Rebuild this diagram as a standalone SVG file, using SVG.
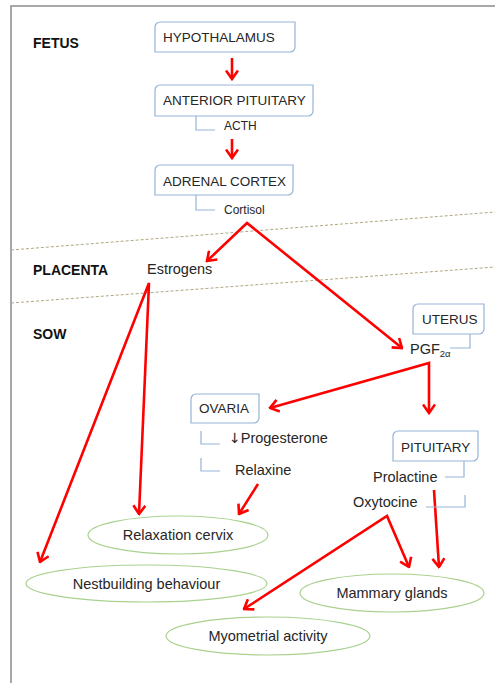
<svg xmlns="http://www.w3.org/2000/svg" width="495" height="683" viewBox="0 0 495 683">
<style>
.box{fill:#fff;stroke:#95b3d7;stroke-width:1.2}
.ell{fill:#fff;stroke:#a9d18e;stroke-width:1.2}
.brk{fill:none;stroke:#95b3d7;stroke-width:1.2}
.arr{fill:none;stroke:#ff0000;stroke-width:2.6;stroke-linejoin:miter;marker-end:url(#ah)}
.arr2{fill:none;stroke:#ff0000;stroke-width:2.6;stroke-linejoin:miter;marker-start:url(#ah);marker-end:url(#ah)}
.dash{fill:none;stroke:#b0a882;stroke-width:1;stroke-dasharray:3 2}
text{font-family:"Liberation Sans",Arial,sans-serif;fill:#262626}
.bl{font-size:13.5px}
.lb{font-size:14.5px}
.sm{font-size:12px}
.sec{font-size:14px;font-weight:bold;fill:#111}
</style>
<defs>
<marker id="ah" viewBox="0 0 12 14" markerUnits="userSpaceOnUse" markerWidth="12" markerHeight="14" refX="10.5" refY="7" orient="auto-start-reverse">
<path d="M2,1 L10.5,7 L2,13" fill="none" stroke="#ff0000" stroke-width="2.6"/>
</marker>
</defs>
<rect width="495" height="683" fill="#fff"/>
<path d="M11,683 V6 H495" fill="none" stroke="#8c8c8c" stroke-width="1.5"/>
<g id="dividers">
<line class="dash" x1="11" y1="250" x2="495" y2="212"/>
<line class="dash" x1="11" y1="303" x2="495" y2="267"/>
</g>
<g id="sections">
<text class="sec" x="33" y="48">FETUS</text>
<text class="sec" x="33" y="275">PLACENTA</text>
<text class="sec" x="33" y="339">SOW</text>
</g>
<g id="connectors">
<path class="arr" d="M232,58 V79"/>
<path class="arr" d="M232,139 V158"/>
<path class="arr2" d="M207,261 L247,223 L402,348"/>
<path class="arr2" d="M270,408 L429,363 L429,413"/>
<path class="arr2" d="M40,562 L149,283 L139,514"/>
<path class="arr" d="M258,484 L239,514"/>
<path class="arr" d="M434,490 L439,567"/>
<path class="arr2" d="M244,609 L387,516 L409,567"/>
</g>
<g id="brackets">
<path class="brk" d="M196,116 V130 H215"/>
<path class="brk" d="M196,195 V210 H215"/>
<path class="brk" d="M470,334 V348 H450"/>
<path class="brk" d="M201,431 V444 H220"/>
<path class="brk" d="M201,458 V471 H220"/>
<path class="brk" d="M464,461 V477 H445"/>
<path class="brk" d="M426,507 H465 V495"/>
</g>
<g id="hypothalamus">
<path class="box" d="M160,22 H295 V47 A5,5 0 0 1 290,52 H155 V27 A5,5 0 0 1 160,22 Z"/>
<text class="bl" x="163" y="42">HYPOTHALAMUS</text>
</g>
<g id="anterior-pituitary">
<path class="box" d="M160,85 H313 V111 A5,5 0 0 1 308,116 H155 V90 A5,5 0 0 1 160,85 Z"/>
<text class="bl" x="163" y="105">ANTERIOR PITUITARY</text>
</g>
<text id="acth" class="sm" x="224" y="130">ACTH</text>
<g id="adrenal-cortex">
<path class="box" d="M160,165 H293 V190 A5,5 0 0 1 288,195 H155 V170 A5,5 0 0 1 160,165 Z"/>
<text class="bl" x="163" y="186">ADRENAL CORTEX</text>
</g>
<text id="cortisol" class="sm" x="224" y="214">Cortisol</text>
<text id="estrogens" class="lb" x="147" y="274">Estrogens</text>
<g id="uterus">
<path class="box" d="M418,304 H484 V329 A5,5 0 0 1 479,334 H413 V309 A5,5 0 0 1 418,304 Z"/>
<text class="bl" x="422" y="324">UTERUS</text>
</g>
<text id="pgf" class="lb" x="410" y="354">PGF<tspan font-size="9.5" dy="3">2α</tspan></text>
<g id="ovaria">
<path class="box" d="M196,394 H259 V418 A5,5 0 0 1 254,423 H191 V399 A5,5 0 0 1 196,394 Z"/>
<text class="bl" x="199" y="413">OVARIA</text>
</g>
<text id="progesterone" class="lb" x="229" y="443"><tspan font-family="'DejaVu Sans',sans-serif" font-size="14">↓</tspan>Progesterone</text>
<text id="relaxine" class="lb" x="235" y="475">Relaxine</text>
<g id="pituitary">
<path class="box" d="M398,431 H478 V456 A5,5 0 0 1 473,461 H393 V436 A5,5 0 0 1 398,431 Z"/>
<text class="bl" x="401" y="452">PITUITARY</text>
</g>
<text id="prolactine" class="lb" x="373" y="482">Prolactine</text>
<text id="oxytocine" class="lb" x="353" y="507">Oxytocine</text>
<g id="relaxation-cervix">
<ellipse class="ell" cx="178" cy="535" rx="90" ry="19"/>
<text class="lb" x="178" y="540" text-anchor="middle">Relaxation cervix</text>
</g>
<g id="nestbuilding">
<ellipse class="ell" cx="146.5" cy="583.5" rx="120.5" ry="18.5"/>
<text class="lb" x="146.5" y="588.5" text-anchor="middle">Nestbuilding behaviour</text>
</g>
<g id="mammary-glands">
<ellipse class="ell" cx="392" cy="593" rx="92" ry="19"/>
<text class="lb" x="392" y="598" text-anchor="middle">Mammary glands</text>
</g>
<g id="myometrial">
<ellipse class="ell" cx="268" cy="636" rx="102" ry="19"/>
<text class="lb" x="268" y="641" text-anchor="middle">Myometrial activity</text>
</g>
</svg>
